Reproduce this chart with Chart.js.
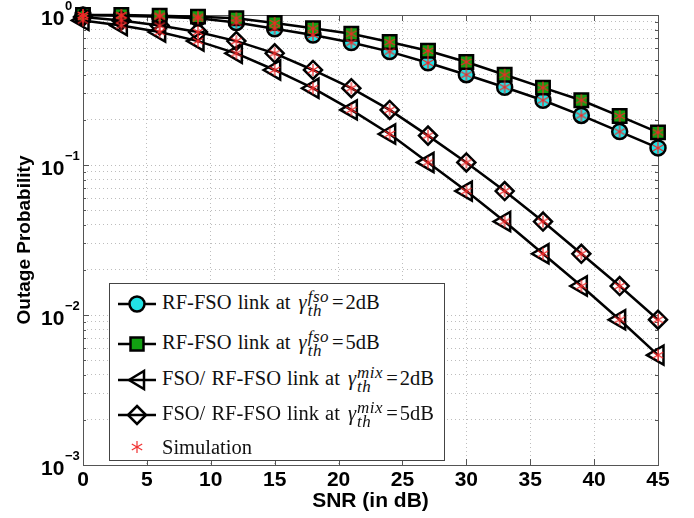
<!DOCTYPE html>
<html>
<head>
<meta charset="utf-8">
<script src="https://cdn.jsdelivr.net/npm/chart.js@4"></script>
<style>
  html, body { margin: 0; padding: 0; background: #fff; }
  #wrap { position: relative; width: 694px; height: 518px; }
  #legend {
    position: absolute; left: 109px; top: 283px; width: 334px; height: 176px;
    border: 1px solid #444; background: #fff; box-sizing: content-box;
    font-family: "Liberation Serif", "DejaVu Serif", serif; font-size: 20.5px; color: #111;
    word-spacing: 1px;
  }
  .row { position: absolute; left: 0; height: 30px; display: flex; align-items: center; white-space: nowrap; }
  .row svg { width: 50px; height: 30px; margin-left: 2px; flex: none; }
  .gam { font-style: italic; margin-left: 2px; }
  .ss { display: inline-flex; flex-direction: column; vertical-align: middle; font-style: italic; font-size: 17px; line-height: 14px; margin: 0 1px; letter-spacing: 0.5px; }
  .eq { margin: 0 2px; }
</style>
</head>
<body>
<div id="wrap">
  <canvas id="grafico" width="694" height="518"></canvas>
  <div id="legend">
    <div class="row" style="top:5px">
      <svg viewBox="0 0 50 30"><line x1="6" y1="15" x2="44" y2="15" stroke="#000" stroke-width="2.5"/><circle cx="25" cy="15" r="7.5" fill="#22e3e6" stroke="#000" stroke-width="2.5"/></svg>
      <span>RF-FSO link at <span class="gam">γ</span><span class="ss"><span>fso</span><span>th</span></span><span class="eq">=</span>2dB</span>
    </div>
    <div class="row" style="top:45px">
      <svg viewBox="0 0 50 30"><line x1="6" y1="15" x2="44" y2="15" stroke="#000" stroke-width="2.5"/><rect x="18.5" y="8.5" width="13" height="13" fill="#12a012" stroke="#000" stroke-width="2.5"/></svg>
      <span>RF-FSO link at <span class="gam">γ</span><span class="ss"><span>fso</span><span>th</span></span><span class="eq">=</span>5dB</span>
    </div>
    <div class="row" style="top:81px">
      <svg viewBox="0 0 50 30"><line x1="6" y1="15" x2="44" y2="15" stroke="#000" stroke-width="2.5"/><polygon points="17,15 32,6 32,24" fill="none" stroke="#000" stroke-width="2.5"/></svg>
      <span>FSO/ RF-FSO link at <span class="gam">γ</span><span class="ss"><span>mix</span><span>th</span></span><span class="eq">=</span>2dB</span>
    </div>
    <div class="row" style="top:116px">
      <svg viewBox="0 0 50 30"><line x1="6" y1="15" x2="44" y2="15" stroke="#000" stroke-width="2.5"/><polygon points="25,6 34,15 25,24 16,15" fill="none" stroke="#000" stroke-width="2.5"/></svg>
      <span>FSO/ RF-FSO link at <span class="gam">γ</span><span class="ss"><span>mix</span><span>th</span></span><span class="eq">=</span>5dB</span>
    </div>
    <div class="row" style="top:148px">
      <svg viewBox="0 0 50 30"><g stroke="#f03030" stroke-width="1.2"><line x1="25" y1="9" x2="25" y2="21"/><line x1="19.8" y1="12" x2="30.2" y2="18"/><line x1="19.8" y1="18" x2="30.2" y2="12"/></g></svg>
      <span>Simulation</span>
    </div>
  </div>
</div>
<script>
// eixo x (SNR em dB) e curvas de probabilidade de outage
const snr = [0, 3, 6, 9, 12, 15, 18, 21, 24, 27, 30, 33, 36, 39, 42, 45];
const rfFso2dB = [1.0, 0.99, 0.975, 0.95, 0.89, 0.81, 0.735, 0.655, 0.57, 0.48, 0.40, 0.33, 0.27, 0.214, 0.167, 0.13];
const rfFso5dB = [1.0, 1.0, 0.99, 0.975, 0.95, 0.885, 0.815, 0.75, 0.66, 0.577, 0.486, 0.40, 0.328, 0.27, 0.212, 0.165];
const mix2dB = [0.92, 0.85, 0.77, 0.67, 0.555, 0.43, 0.325, 0.233, 0.161, 0.104, 0.067, 0.042, 0.0256, 0.0156, 0.0093, 0.0054];
const mix5dB = [0.97, 0.92, 0.85, 0.77, 0.67, 0.555, 0.43, 0.325, 0.233, 0.157, 0.104, 0.067, 0.042, 0.0256, 0.0156, 0.0093];
// simulação (asteriscos vermelhos) lida sobre os marcadores
const sim2dB = [1.0, 0.99, 0.975, 0.95, 0.89, 0.81, 0.735, 0.655, 0.57, 0.48, 0.40, 0.33, 0.27, 0.214, 0.167, 0.13];
const sim5dB = [1.0, 1.0, 0.99, 0.975, 0.95, 0.885, 0.815, 0.75, 0.66, 0.577, 0.486, 0.40, 0.328, 0.27, 0.212, 0.165];
const simMix2dB = [0.92, 0.85, 0.77, 0.67, 0.555, 0.43, 0.325, 0.233, 0.161, 0.104, 0.067, 0.042, 0.0256, 0.0156, 0.0093, 0.0054];
const simMix5dB = [0.97, 0.92, 0.85, 0.77, 0.67, 0.555, 0.43, 0.325, 0.233, 0.157, 0.104, 0.067, 0.042, 0.0256, 0.0156, 0.0093];

const xTicks = [0, 5, 10, 15, 20, 25, 30, 35, 40, 45];
const yDecadas = [0.001, 0.01, 0.1, 1];
const yExpoentes = ['\u22123', '\u22122', '\u22121', '0'];

function pares(ys) {
  return snr.map((x, i) => ({ x, y: ys[i] }));
}

// asterisco do matlab (3 tracos)
const asterisco = document.createElement('canvas');
asterisco.width = 14; asterisco.height = 14;
(function () {
  const c = asterisco.getContext('2d');
  c.strokeStyle = '#f02828';
  c.lineWidth = 1.2;
  c.beginPath();
  c.moveTo(7, 1); c.lineTo(7, 13);
  c.moveTo(1.8, 4); c.lineTo(12.2, 10);
  c.moveTo(1.8, 10); c.lineTo(12.2, 4);
  c.stroke();
})();

function curva(ys, estilo, fundo, raio, ordem, rot) {
  return {
    data: pares(ys),
    borderColor: '#000',
    borderWidth: 2.5,
    pointStyle: estilo,
    pointRadius: raio,
    pointRotation: rot || 0,
    pointBackgroundColor: fundo,
    pointBorderColor: '#000',
    pointBorderWidth: 2.5,
    fill: false,
    tension: 0,
    clip: false,
    order: ordem
  };
}

function simulacao(ys) {
  return {
    data: pares(ys),
    showLine: false,
    pointStyle: asterisco,
    pointRadius: 7,
    clip: false,
    order: 0
  };
}

const caixaEixos = {
  id: 'caixaEixos',
  beforeDatasetsDraw(chart) {
    const { ctx, chartArea: a, scales } = chart;
    ctx.save();
    ctx.strokeStyle = '#555';
    ctx.lineWidth = 1;
    ctx.strokeRect(a.left + 0.5, a.top + 0.5, a.right - a.left, a.bottom - a.top);
    ctx.beginPath();
    xTicks.forEach(v => {
      const px = Math.round(scales.x.getPixelForValue(v)) + 0.5;
      ctx.moveTo(px, a.bottom); ctx.lineTo(px, a.bottom - 6);
      ctx.moveTo(px, a.top); ctx.lineTo(px, a.top + 6);
    });
    scales.y.ticks.forEach(t => {
      const py = Math.round(scales.y.getPixelForValue(t.value)) + 0.5;
      const len = yDecadas.includes(t.value) ? 6 : 3;
      ctx.moveTo(a.left, py); ctx.lineTo(a.left + len, py);
      ctx.moveTo(a.right, py); ctx.lineTo(a.right - len, py);
    });
    ctx.stroke();
    // rotulos 10^n do eixo y
    ctx.fillStyle = '#000';
    ctx.textBaseline = 'alphabetic';
    yDecadas.forEach((v, i) => {
      const py = scales.y.getPixelForValue(v);
      ctx.font = 'bold 21px "Liberation Sans", Arial, sans-serif';
      ctx.fillText('10', 41, py + 10);
      ctx.font = 'bold 13px "Liberation Sans", Arial, sans-serif';
      ctx.fillText(yExpoentes[i], 65, py - 5);
    });
    ctx.restore();
  }
};

new Chart(document.getElementById('grafico'), {
  type: 'line',
  data: {
    datasets: [
      curva(rfFso2dB, 'circle', '#22e3e6', 7.5, 4),
      curva(rfFso5dB, 'rect', '#12a012', 9.5, 3),
      curva(mix2dB, 'triangle', 'rgba(255,255,255,0)', 11, 2, -90),
      curva(mix5dB, 'rectRot', 'rgba(255,255,255,0)', 9, 1),
      simulacao(sim2dB),
      simulacao(sim5dB),
      simulacao(simMix2dB),
      simulacao(simMix5dB)
    ]
  },
  options: {
    responsive: false,
    animation: false,
    layout: { padding: { top: 15, right: 36, left: 0, bottom: 0 } },
    plugins: { legend: { display: false }, tooltip: { enabled: false } },
    scales: {
      x: {
        type: 'linear',
        min: 0,
        max: 45,
        afterBuildTicks: s => { s.ticks = xTicks.map(v => ({ value: v })); },
        afterFit: s => { s.height = 53; },
        grid: { color: '#bdbdbd', lineWidth: 1, drawTicks: false },
        border: { display: false, dash: [1, 3] },
        ticks: {
          padding: 3,
          color: '#000',
          font: { family: '"Liberation Sans", Arial, sans-serif', size: 21, weight: 'bold' }
        },
        title: {
          display: true,
          text: 'SNR (in dB)',
          color: '#000',
          font: { family: '"Liberation Sans", Arial, sans-serif', size: 21, weight: 'bold' },
          padding: { top: 0, bottom: 4 }
        }
      },
      y: {
        type: 'logarithmic',
        min: 0.001,
        max: 1,
        afterBuildTicks: s => {
          const t = [];
          yDecadas.forEach(d => {
            for (let k = 1; k <= 9; k++) {
              const v = +(d * k).toPrecision(3);
              if (v <= 1) t.push({ value: v });
            }
          });
          s.ticks = t;
        },
        afterFit: s => { s.width = 83; },
        grid: { color: '#bdbdbd', lineWidth: 1, drawTicks: false },
        border: { display: false, dash: [1, 3] },
        ticks: { callback: () => '', font: { size: 1 } },
        title: {
          display: true,
          text: 'Outage Probability',
          color: '#000',
          font: { family: '"Liberation Sans", Arial, sans-serif', size: 19, weight: 'bold' },
          padding: { top: 13, bottom: 0 }
        }
      }
    }
  },
  plugins: [caixaEixos]
});
</script>
</body>
</html>
